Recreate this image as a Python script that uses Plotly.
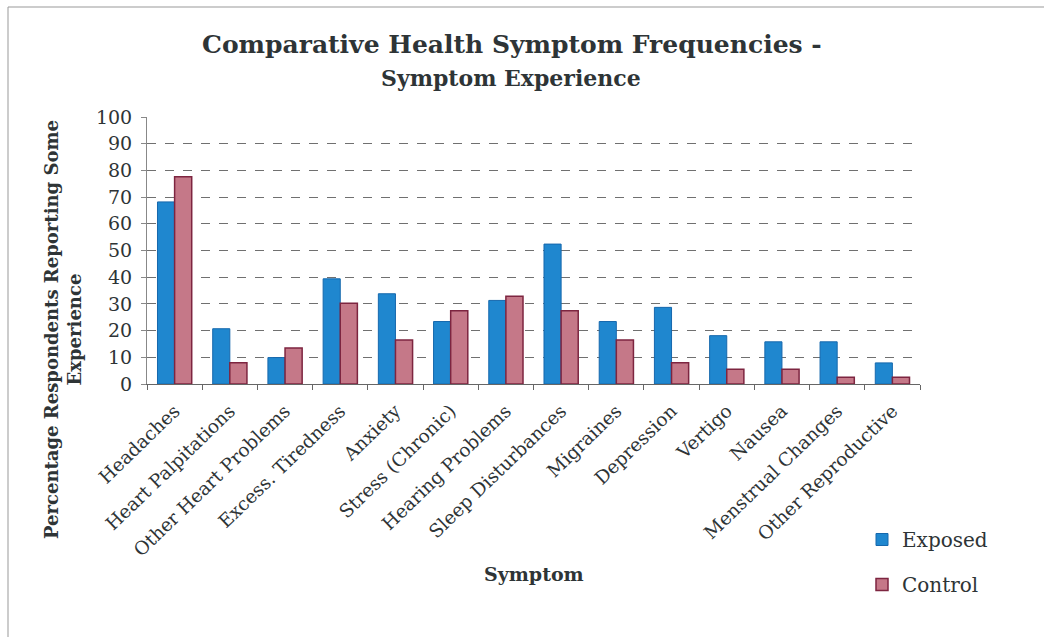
import plotly.graph_objects as go

categories = ["Headaches", "Heart Palpitations", "Other Heart Problems", "Excess. Tiredness",
              "Anxiety", "Stress (Chronic)", "Hearing Problems", "Sleep Disturbances",
              "Migraines", "Depression", "Vertigo", "Nausea", "Menstrual Changes",
              "Other Reproductive"]
exposed = [68.2, 20.7, 9.9, 39.4, 33.8, 23.4, 31.3, 52.4, 23.4, 28.7, 18.1, 15.8, 15.8, 7.9]
control = [77.6, 8.0, 13.5, 30.2, 16.5, 27.4, 32.9, 27.4, 16.5, 8.0, 5.5, 5.5, 2.5, 2.5]
y_ticks = [0, 10, 20, 30, 40, 50, 60, 70, 80, 90, 100]

SERIF = "DejaVu Serif, serif"
TXT = "#2e3436"

fig = go.Figure()
fig.add_trace(go.Bar(x=categories, y=exposed, name="Exposed", legendgroup="a",
                     marker=dict(color="#1f87cf", line=dict(color="#1668ad", width=1))))
fig.add_trace(go.Bar(x=categories, y=control, name="Control", legendgroup="b",
                     marker=dict(color="#c57888", line=dict(color="#7d2540", width=1.5))))

W, H = 1044, 637
L, R, T, B = 147, 124, 117, 253
pw, ph = W - L - R, H - T - B

fig.update_layout(
    width=W, height=H,
    margin=dict(l=L, r=R, t=T, b=B, autoexpand=False),
    paper_bgcolor="white", plot_bgcolor="white",
    barmode="group", bargap=0.38, bargroupgap=0.0,
    font=dict(family=SERIF, color=TXT),
    showlegend=True,
    legend=dict(x=(862 - L) / pw, y=(H - B - 520) / ph, xanchor="left", yanchor="top",
                font=dict(family=SERIF, size=20, color=TXT),
                tracegroupgap=16, itemwidth=30, bgcolor="rgba(0,0,0,0)"),
    xaxis=dict(tickangle=-44, tickfont=dict(family=SERIF, size=18.5, color=TXT),
               showline=True, linecolor="#666", linewidth=1,
               ticks="outside", tickson="boundaries", ticklen=5, tickcolor="#666",
               ticklabelstandoff=8, showgrid=False),
    yaxis=dict(range=[0, 100], tickvals=y_ticks, tickfont=dict(family=SERIF, size=19, color=TXT),
               showgrid=True, gridcolor="#707070", griddash="dash", gridwidth=1,
               showline=True, linecolor="#888", linewidth=1, ticks="outside", ticklen=5,
               tickcolor="#888", ticklabelstandoff=5, zeroline=False),
    annotations=[
        dict(text="<b>Comparative Health Symptom Frequencies -</b>", x=512, y=44,
             showarrow=False, font=dict(family=SERIF, size=25, color=TXT)),
        dict(text="<b>Symptom Experience</b>", x=511, y=78,
             showarrow=False, font=dict(family=SERIF, size=22, color=TXT)),
        dict(text="<b>Percentage Respondents Reporting Some<br>Experience</b>", x=63, y=330,
             showarrow=False, textangle=-90,
             font=dict(family=SERIF, size=18, color=TXT)),
        dict(text="<b>Symptom</b>", x=534, y=574,
             showarrow=False, font=dict(family=SERIF, size=19, color=TXT)),
    ],
)

# convert pixel annotation positions to paper coordinates
for a in fig.layout.annotations:
    a.xref = "paper"
    a.yref = "paper"
    a.x = (a.x - L) / pw
    a.y = (H - B - a.y) / ph
    a.xanchor = "center"
    a.yanchor = "middle"

# frame lines of the scanned page
fig.add_shape(type="line", xref="paper", yref="paper",
              x0=(8 - L) / pw, x1=(1044 - L) / pw, y0=(H - B - 7) / ph, y1=(H - B - 7) / ph,
              line=dict(color="#999", width=1))
fig.add_shape(type="line", xref="paper", yref="paper",
              x0=(8 - L) / pw, x1=(8 - L) / pw, y0=(H - B - 7) / ph, y1=(H - B - 637) / ph,
              line=dict(color="#999", width=1))

fig.write_html("out.html", config={"displayModeBar": False},
               post_script="document.body.style.margin='0';document.body.style.padding='0';")
